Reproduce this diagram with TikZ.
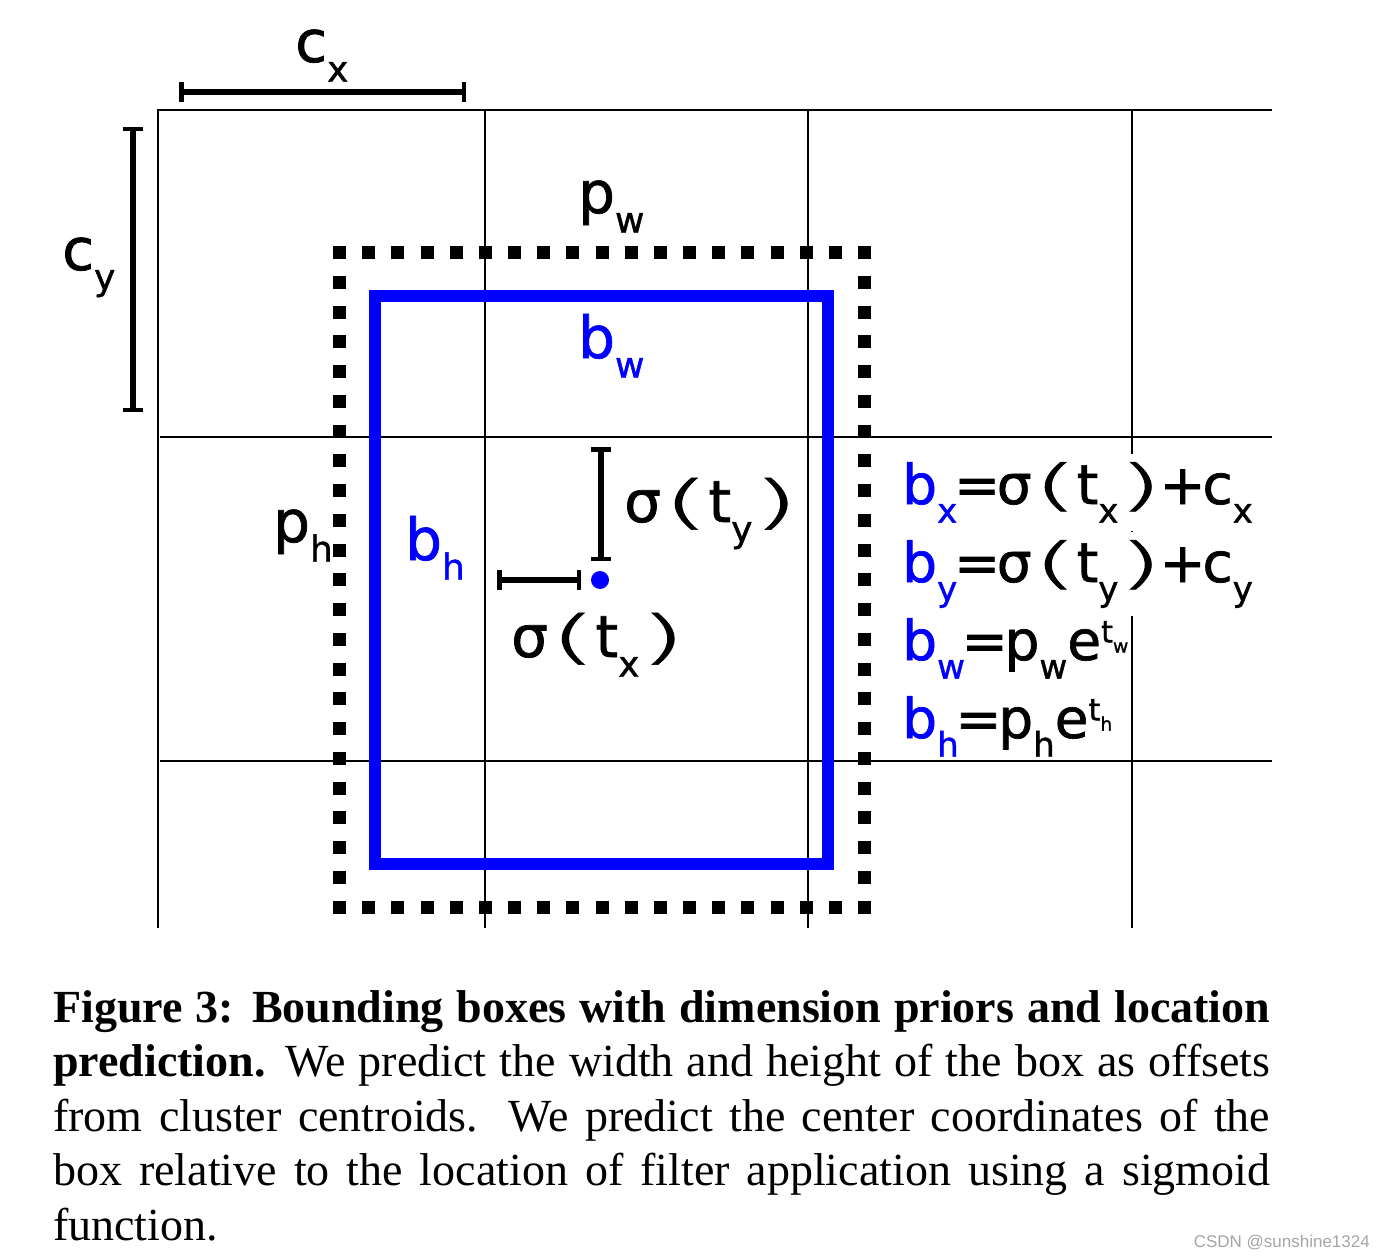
\documentclass[tikz,border=0pt]{standalone}
\usepackage{fontspec}
\setmainfont{Liberation Serif}
\newfontfamily\diagfont[FakeBold=1.2]{DejaVu Sans}
\newfontfamily\thinfont[FakeBold=1.2]{DejaVu Sans ExtraLight}
\newfontfamily\markfont{Liberation Sans}
\usetikzlibrary{arrows.meta}

\definecolor{boxblue}{RGB}{0,0,255}
\definecolor{markgray}{RGB}{165,165,165}

% lowered / raised small text for the indices
\newcommand{\lsub}[1]{\raisebox{-0.34em}{\scalebox{0.62}{#1}}}
\newcommand{\lsup}[1]{\raisebox{0.32em}{\scalebox{0.55}{#1}}}
% wide round brackets
\newcommand{\oparen}{\kern0.02em\scalebox{2.1}[1]{\thinfont(}\kern-0.02em}
\newcommand{\cparen}{\kern-0.01em\scalebox{2.1}[1]{\thinfont)}}
% tight operators
\newcommand{\eqsign}{\kern-0.06em=\kern-0.06em}
\newcommand{\plsign}{\kern-0.06em+\kern-0.06em}
% one justified caption line
\newcommand{\capline}[1]{\hbox to 1217pt{#1}}

\begin{document}
\begin{tikzpicture}[x=1pt,y=1pt,yscale=-1,
  grid line/.style={line width=2pt},
  prior side/.style={line width=13pt},
  pred box/.style={line width=12pt,draw=boxblue},
  span bar/.style={line width=5.5pt,{Bar[width=20pt,line width=4.5pt]}-{Bar[width=20pt,line width=4.5pt]}},
  big label/.style={inner sep=0pt,anchor=base west,font=\diagfont\fontsize{58}{60}\selectfont},
  eq label/.style={inner xsep=0pt,inner ysep=8pt,anchor=base west,font=\diagfont\fontsize{55}{60}\selectfont},
  eq mask/.style={fill=white}]
\path[use as bounding box] (0,0) rectangle (1386,1257);

% cells
\draw[grid line] (158,928) -- (158,110) -- (1272,110);
\draw[grid line] (160,437) -- (1272,437);
\draw[grid line] (160,761) -- (1272,761);
\foreach \gx in {485,808,1132}
  \draw[grid line] (\gx,110) -- (\gx,928);

% prior box, dotted
\draw[prior side,dash pattern=on 13pt off 16.17pt] (333,252.5) -- (871,252.5);
\draw[prior side,dash pattern=on 13pt off 16.17pt] (333,907) -- (871,907);
\draw[prior side,dash pattern=on 13pt off 16.75pt] (339.5,246) -- (339.5,913.5);
\draw[prior side,dash pattern=on 13pt off 16.75pt] (864.5,246) -- (864.5,913.5);

% predicted box
\draw[pred box] (375,295.5) rectangle (828,864);

% cell offsets
\coordinate (cx-l) at (179,92);
\coordinate (cx-r) at (466,92);
\coordinate (cy-t) at (133,127);
\coordinate (cy-b) at (133,412);
\draw[span bar] (cx-l) -- (cx-r);
\draw[span bar] (cy-t) -- (cy-b);

% box centre and sigmoid offsets
\node[circle,fill=boxblue,inner sep=0pt,minimum size=18pt] (ctr) at (600,580) {};
\coordinate (sty-t) at (601,447);
\coordinate (sty-b) at (601,561);
\coordinate (stx-l) at (497,580);
\coordinate (stx-r) at (581,580);
\draw[span bar] (sty-t) -- (sty-b);
\draw[span bar] (stx-l) -- (stx-r);

% labels
\node[big label] (lcx) at (295,62) {c\lsub{x}};
\node[big label] (lcy) at (62,270) {c\lsub{y}};
\node[big label] (lpw) at (578,213) {p\lsub{w}};
\node[big label,text=boxblue] (lbw) at (578,358) {b\lsub{w}};
\node[big label] (lph) at (273,542) {p\lsub{h}};
\node[big label,text=boxblue] (lbh) at (405,560) {b\lsub{h}};
\node[big label] (lsty) at (624,522) {σ\oparen t\lsub{y}\cparen};
\node[big label] (lstx) at (511,657) {σ\oparen t\lsub{x}\cparen};

% equations
\node[eq label,eq mask] (eqx) at (902,504) {\textcolor{boxblue}{b\lsub{x}}\eqsign σ\oparen t\lsub{x}\cparen\plsign c\lsub{x}};
\node[eq label,eq mask] (eqy) at (902,582) {\textcolor{boxblue}{b\lsub{y}}\eqsign σ\oparen t\lsub{y}\cparen\plsign c\lsub{y}};
\node[eq label] (eqw) at (902,660) {\textcolor{boxblue}{b\lsub{w}}\eqsign p\lsub{w}e\lsup{t\lsub{w}}};
\node[eq label] (eqh) at (902,738) {\textcolor{boxblue}{b\lsub{h}}\eqsign p\lsub{h}e\lsup{t\lsub{h}}};

% caption
\node[anchor=north west,inner sep=0pt] (capt) at (53,990) {\vbox{\fontsize{46}{54.6}\selectfont
  \capline{\textbf{Figure 3:} \textbf{Bounding boxes with dimension priors and location}}
  \capline{\textbf{prediction.} We predict the width and height of the box as offsets}
  \capline{from cluster centroids. We predict the center coordinates of the}
  \capline{box relative to the location of filter application using a sigmoid}
  \capline{function.\hfil}}};

\node[anchor=base east,inner sep=0pt,text=markgray,font=\markfont\fontsize{17}{17}\selectfont] (mark) at (1370,1247) {CSDN @sunshine1324};
\end{tikzpicture}
\end{document}
